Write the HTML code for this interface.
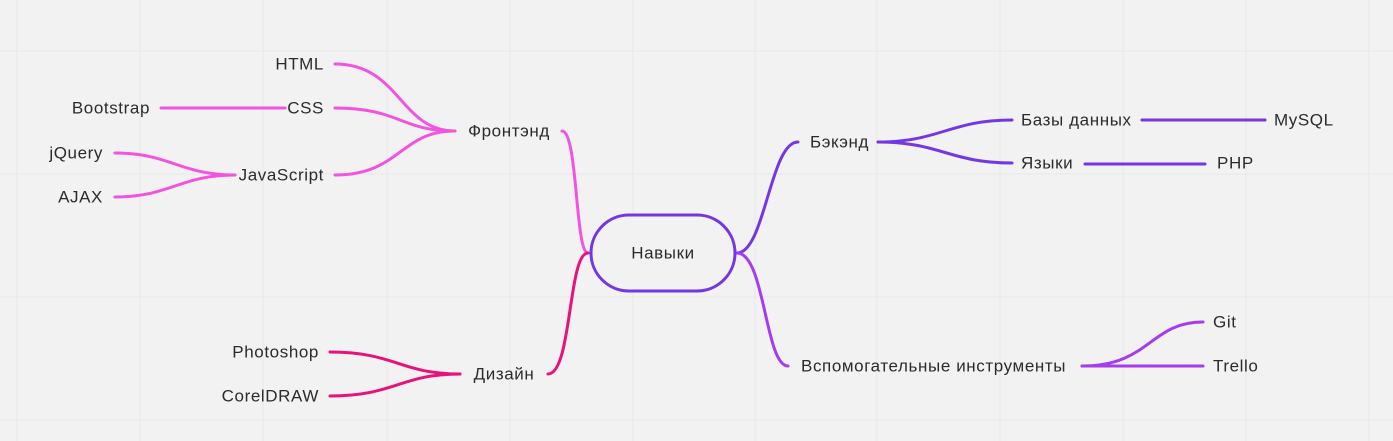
<!DOCTYPE html>
<html><head><meta charset="utf-8"><style>
html,body{margin:0;padding:0;background:#f2f2f2;}
svg{display:block;}
text{font-family:"Liberation Sans","DejaVu Sans",sans-serif;font-size:17px;letter-spacing:0.6px;fill:#2b2b2b;dominant-baseline:central;}
</style></head><body>
<svg width="1393" height="441" xmlns="http://www.w3.org/2000/svg">
<g stroke="#e8e8e8" stroke-width="1">
<line x1="17" y1="0" x2="17" y2="441"/><line x1="140" y1="0" x2="140" y2="441"/><line x1="263" y1="0" x2="263" y2="441"/><line x1="387" y1="0" x2="387" y2="441"/><line x1="510" y1="0" x2="510" y2="441"/><line x1="633" y1="0" x2="633" y2="441"/><line x1="755" y1="0" x2="755" y2="441"/><line x1="877" y1="0" x2="877" y2="441"/><line x1="1000" y1="0" x2="1000" y2="441"/><line x1="1123" y1="0" x2="1123" y2="441"/><line x1="1246" y1="0" x2="1246" y2="441"/><line x1="1369" y1="0" x2="1369" y2="441"/>
<line x1="0" y1="51" x2="1393" y2="51"/><line x1="0" y1="174" x2="1393" y2="174"/><line x1="0" y1="297" x2="1393" y2="297"/><line x1="0" y1="420" x2="1393" y2="420"/>
</g>
<g fill="none" stroke-width="3" stroke-linecap="round">
<g stroke="#f254de">
<path d="M588,253 C575,253 578,131 562,131"/>
<path d="M335,64 C400,64 400,131 455,131"/>
<path d="M335,108 C400,108 400,131 455,131"/>
<path d="M335,175 C400,175 400,131 455,131"/>
<path d="M161,108 L285,108"/>
<path d="M115,153 C170,153 180,175 235,175"/>
<path d="M115,197 C170,197 180,175 235,175"/>
</g>
<g stroke="#e8127a">
<path d="M588,253 C568,253 572,374 548,374"/>
<path d="M330,352 C395,352 400,374 460,374"/>
<path d="M330,396 C395,396 400,374 460,374"/>
</g>
<g stroke="#7537e3">
<path d="M737,253 C765,253 770,142 798,142"/>
<path d="M878,142 C940,142 950,120 1012,120"/>
<path d="M878,142 C940,142 950,163 1012,163"/>
<path d="M1142,120 L1265,120"/>
<path d="M1085,164 L1205,164"/>
</g>
<g stroke="#a53ced">
<path d="M737,253 C765,253 765,366 788,366"/>
<path d="M1082,366 C1150,366 1150,322 1203,322"/>
<path d="M1082,366 L1203,366"/>
</g>
<rect x="591" y="215" width="144" height="76" rx="38" stroke="#7537e3" fill="#f2f2f2"/>
</g>
<text x="663" y="253" text-anchor="middle">Навыки</text>
<text x="509" y="131" text-anchor="middle">Фронтэнд</text>
<text x="324" y="64" text-anchor="end">HTML</text>
<text x="324" y="108" text-anchor="end">CSS</text>
<text x="324" y="175" text-anchor="end">JavaScript</text>
<text x="150" y="108" text-anchor="end">Bootstrap</text>
<text x="103" y="153" text-anchor="end">jQuery</text>
<text x="103" y="197" text-anchor="end">AJAX</text>
<text x="504" y="374" text-anchor="middle">Дизайн</text>
<text x="319" y="352" text-anchor="end">Photoshop</text>
<text x="319" y="396" text-anchor="end">CorelDRAW</text>
<text x="810" y="142">Бэкэнд</text>
<text x="1021" y="120">Базы данных</text>
<text x="1021" y="163">Языки</text>
<text x="1274" y="120">MySQL</text>
<text x="1217" y="163">PHP</text>
<text x="801" y="366">Вспомогательные инструменты</text>
<text x="1213" y="322">Git</text>
<text x="1213" y="366">Trello</text>
</svg>
</body></html>
